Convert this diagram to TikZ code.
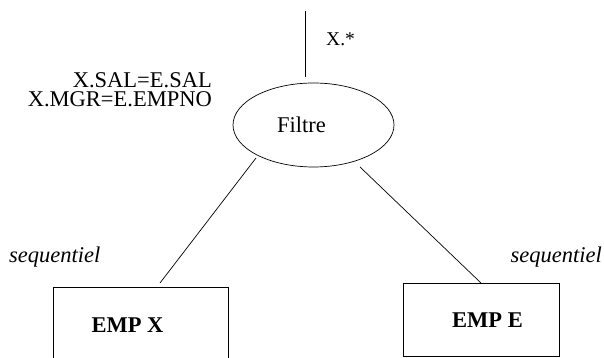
\documentclass[tikz,border=0pt]{standalone}
\usepackage{fontspec}
\setmainfont{Liberation Serif}
\usetikzlibrary{shapes.geometric}
\begin{document}
\begin{tikzpicture}[x=1pt,y=1pt,
  wire/.style={line width=0.7pt},
  opbox/.style={draw,line width=0.7pt,ellipse,inner sep=0pt,
    minimum width=161pt,minimum height=84pt},
  relbox/.style={draw,line width=0.7pt,rectangle,inner sep=0pt},
  txt/.style={inner sep=0pt,font=\fontsize{22.5}{19}\selectfont},
  bold/.style={txt,font=\fontsize{22.5}{19}\selectfont\bfseries},
  ital/.style={txt,font=\fontsize{22.5}{19}\selectfont\itshape},
  small/.style={inner sep=0pt,font=\fontsize{19.5}{22}\selectfont}]
\useasboundingbox (0,0) rectangle (604,358);

% operator node
\node[opbox] (filtre) at (313.5,233) {};
\node[txt,anchor=base] (filtretxt) at (301.5,225) {Filtre};

% relations (the left box runs past the lower edge)
\node[relbox,minimum width=175pt,minimum height=85pt] (empx) at (140.5,28.5) {};
\node[bold,anchor=base] (empxtxt) at (127.5,25) {EMP X};
\node[relbox,minimum width=156pt,minimum height=73pt] (empe) at (481,38.5) {};
\node[bold,anchor=base] (empetxt) at (487.5,30) {EMP E};

% output edge and projection
\coordinate (out) at (305.7,347);
\coordinate (outend) at (305.7,280.5);
\draw[wire] (out) -- (outend);
\node[small,anchor=base west] (proj) at (326,312) {X.*};

% filter conditions
\node[txt,align=right,anchor=north east] (cond) at (212,285.2)
  {X.SAL=E.SAL\\X.MGR=E.EMPNO};

% input edges
\coordinate (lin) at (256,200);
\coordinate (lend) at (160,75);
\coordinate (rin) at (360,191);
\coordinate (rend) at (481,75);
\draw[wire] (lin) -- (lend);
\draw[wire] (rin) -- (rend);

% access methods
\node[ital,anchor=base west] (accx) at (9,95) {sequentiel};
\node[ital,anchor=base east] (acce) at (602,95) {sequentiel};
\end{tikzpicture}
\end{document}
